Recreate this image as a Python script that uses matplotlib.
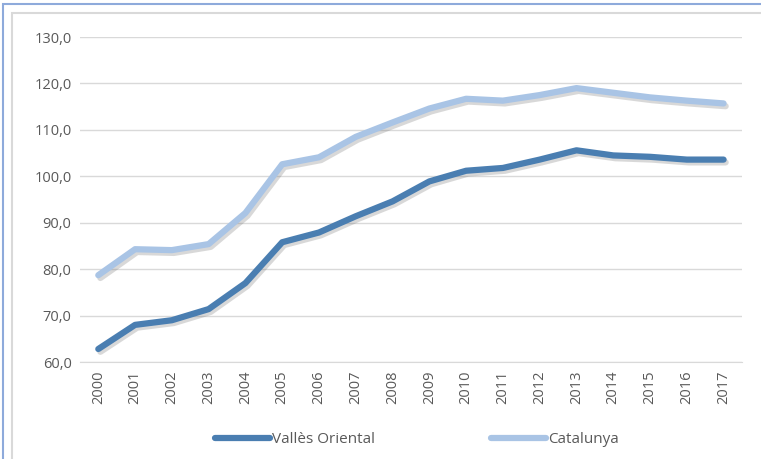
import matplotlib
matplotlib.use("Agg")
import matplotlib.pyplot as plt
import matplotlib.patheffects as pe
from matplotlib.lines import Line2D
from matplotlib.patches import Rectangle

## Data

years = [str(y) for y in range(2000, 2018)]
valles = [62.8, 68.0, 69.0, 71.4, 77.0, 85.8, 87.9, 91.4, 94.6, 98.9,
          101.2, 101.8, 103.6, 105.6, 104.5, 104.2, 103.6, 103.6]
catalunya = [78.7, 84.3, 84.1, 85.4, 92.1, 102.6, 104.1, 108.5, 111.6, 114.6,
             116.7, 116.3, 117.5, 119.0, 118.0, 117.0, 116.3, 115.7]
y_ticks = [60, 70, 80, 90, 100, 110, 120, 130]

## Plot

plt.rcParams['font.family'] = ['Open Sans', 'DejaVu Sans']

fig = plt.figure(figsize=(7.61, 4.59), dpi=100)
ax = fig.add_axes([0.105, 0.2113, 0.87, 0.708])

shadow = [pe.SimpleLineShadow(offset=(1.5, -2), shadow_color='#666666', alpha=0.25),
          pe.Normal()]
x = list(range(len(years)))
ax.plot(x, catalunya, color='#A9C4E5', lw=4.5, solid_capstyle='round',
        solid_joinstyle='round', path_effects=shadow, zorder=3)
ax.plot(x, valles, color='#4A7EB1', lw=4.5, solid_capstyle='round',
        solid_joinstyle='round', path_effects=shadow, zorder=4)

ax.set_xlim(-0.5, len(years) - 0.5)
ax.set_ylim(60, 130)
ax.set_yticks(y_ticks)
ax.set_yticklabels([f"{v:.1f}".replace('.', ',') for v in y_ticks])
ax.set_xticks(x)
ax.set_xticklabels(years, rotation=90)
ax.grid(axis='y', color='#D9D9D9', lw=1)
ax.set_axisbelow(True)
for s in ['top', 'right', 'left']:
    ax.spines[s].set_visible(False)
ax.spines['bottom'].set_color('#D9D9D9')
ax.tick_params(axis='both', length=0, labelsize=10.5, colors='#595959', pad=6)

# legend
handles = [Line2D([], [], color='#4A7EB1', lw=4.5, solid_capstyle='round'),
           Line2D([], [], color='#A9C4E5', lw=4.5, solid_capstyle='round')]
fig.legend(handles, ['Vallès Oriental', 'Catalunya'], loc='center',
           bbox_to_anchor=(0.548, 0.042), ncol=2, frameon=False,
           handlelength=3.6, handletextpad=0.15, columnspacing=7.6,
           labelcolor='#595959', fontsize=11)

# frame borders
fig.add_artist(Rectangle((12 / 761, -0.1), 1.2, 1 - 13 / 459 + 0.1,
                         transform=fig.transFigure, fill=False,
                         edgecolor='#D9D9D9', lw=1.5))
fig.add_artist(Rectangle((3 / 761, -0.1), 1.2, 1 - 4 / 459 + 0.1,
                         transform=fig.transFigure, fill=False,
                         edgecolor='#8EAADB', lw=1.5))

fig.savefig('out.png', dpi=100)
